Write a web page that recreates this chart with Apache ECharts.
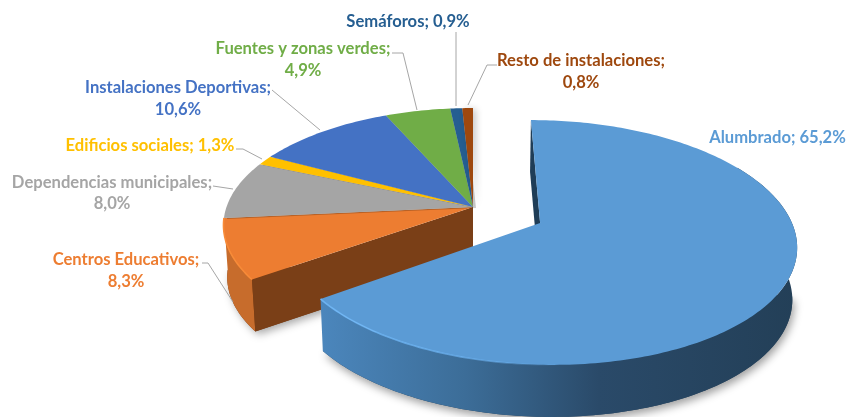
<!DOCTYPE html>
<html><head><meta charset="utf-8">
<style>html,body{margin:0;padding:0;background:#fff}#c{width:848px;height:417px}</style>
<script src="https://cdn.jsdelivr.net/npm/echarts@6/dist/echarts.min.js"></script>
</head><body><div id="c"></div>
<script>
// Data
const categories = ['Alumbrado','Centros Educativos','Dependencias municipales','Edificios sociales','Instalaciones Deportivas','Fuentes y zonas verdes','Semáforos','Resto de instalaciones'];
const values = [65.2,8.3,8.0,1.3,10.6,4.9,0.9,0.8];
const valueLabels = ['65,2%','8,3%','8,0%','1,3%','10,6%','4,9%','0,9%','0,8%'];
const colors = ['#5B9BD5','#ED7D31','#A5A5A5','#FFC000','#4472C4','#70AD47','#255E91','#9E480E'];
const explode = [0.3,0,0,0,0,0,0,0];

// Layout of the text and leader lines
const labelLayout = [
  {x:777.5,y:[138]},
  {x:126,y:[260,282]},
  {x:112,y:[183,204]},
  {x:150,y:[146]},
  {x:178,y:[88,110]},
  {x:303,y:[49,71]},
  {x:408,y:[22]},
  {x:581,y:[61,83]}
];
const leaders = [
  null,
  [[202,263],[208,263],[233,302]],
  [[213,186],[233,189]],
  [[236,149],[243,149],[262,159]],
  [[272,90],[320,130]],
  [[392,53],[403,53],[417,110]],
  [[456,32],[456,106]],
  [[497,65],[487,65],[468,105]]
];
const G = {cx:473, cy:207, R:246.5, Ry:114.3, k:0.155, depth:52, shrink:0.985};

const total = values.reduce((a,b)=>a+b,0);
const rad = d => d*Math.PI/180;
function topPt(X,Y){
  const f = 1/(1+G.k*Y);
  return [G.cx+G.R*X*f, G.cy-G.Ry*Y*f];
}
function botPt(X,Y){
  const p = topPt(X,Y);
  return [G.cx+(p[0]-G.cx)*G.shrink, p[1]+G.depth];
}
function ranges(i){
  let s=0; for(let j=0;j<i;j++) s+=values[j];
  return [s/total*360,(s+values[i])/total*360];
}
function offsetOf(i){
  const [a,b]=ranges(i), m=rad((a+b)/2), d=explode[i];
  return [d*Math.sin(m), d*Math.cos(m)];
}
function arc(i,fn,from,to){
  const [a,b]=ranges(i), [ox,oy]=offsetOf(i), pts=[];
  const s=from===undefined?a:Math.max(a,from), e=to===undefined?b:Math.min(b,to);
  const n=Math.max(2,Math.ceil((e-s)/1));
  for(let t=0;t<=n;t++){const th=rad(s+(e-s)*t/n); pts.push(fn(ox+Math.sin(th),oy+Math.cos(th)));}
  return pts;
}
function apex(i,fn){const [ox,oy]=offsetOf(i); return fn(ox,oy);}
const poly=(points,style,z2)=>({type:'polygon',z2,silent:true,shape:{points},style});
const line=(points,stroke,lineWidth,z2)=>({type:'polyline',z2,silent:true,shape:{points},style:{stroke,lineWidth,fill:null}});
const lg=(x,x2,stops)=>({type:'linear',x,y:0,x2,y2:0,global:true,colorStops:stops});

function renderItem(params,api){
  const i=params.dataIndex, kids=[];
  const color=colors[i];
  const surface=[apex(i,topPt)].concat(arc(i,topPt));
  if(i===0){
    // start wall sliver, outer wall, soft shadow, top and rim highlight
    const th0=ranges(0)[0];
    const [ox,oy]=offsetOf(0);
    kids.push(poly([].concat(arc(0,botPt,100)).concat([apex(0,botPt)]),{fill:'#24405a',shadowBlur:9,shadowColor:'rgba(0,0,0,0.38)',shadowOffsetX:2,shadowOffsetY:4},6));
    kids.push(poly([topPt(ox+Math.sin(rad(th0)),oy+Math.cos(rad(th0))),apex(0,topPt),apex(0,botPt),botPt(ox+Math.sin(rad(th0)),oy+Math.cos(rad(th0)))],{fill:'#1f3d57'},7));
    kids.push(poly(arc(0,topPt,60).concat(arc(0,botPt,60).reverse()),{fill:lg(322,800,[{offset:0,color:'#4B86BC'},{offset:0.3,color:'#3C6D98'},{offset:0.58,color:'#2A4A69'},{offset:1,color:'#233F57'}])},8));
    kids.push(poly(surface,{fill:color},9));
    kids.push(line(arc(0,topPt,170),lg(322,560,[{offset:0,color:'rgba(112,184,248,0.9)'},{offset:0.6,color:'rgba(112,184,248,0.65)'},{offset:1,color:'rgba(112,184,248,0)'}]),1.6,10));
  } else if(i===1){
    kids.push(poly(arc(1,botPt).concat([apex(1,botPt)]),{fill:'#7A3F17',shadowBlur:8,shadowColor:'rgba(0,0,0,0.35)',shadowOffsetX:3,shadowOffsetY:3},2));
    const a=arc(1,topPt), b=arc(1,botPt);
    kids.push(poly(a.concat(b.slice().reverse()),{fill:'#C76C2C'},3));
    kids.push(poly([a[0],apex(1,topPt),apex(1,botPt),b[0]],{fill:'#7A3F17'},4));
    kids.push(poly(surface,{fill:color},5));
    kids.push(line(a,'#F88B38',1.6,5));
  } else {
    kids.push(poly(surface,{fill:color,shadowBlur:i===7?7:0,shadowColor:'rgba(0,0,0,0.22)',shadowOffsetX:3,shadowOffsetY:1},5));
  }
  if(leaders[i]) kids.push(line(leaders[i],'#A6A6A6',1,12));
  const L=labelLayout[i];
  const lines=L.y.length>1?[categories[i]+';',valueLabels[i]]:[categories[i]+'; '+valueLabels[i]];
  lines.forEach((t,n)=>kids.push({type:'text',z2:13,silent:true,
    style:{text:t,x:L.x,y:L.y[n],fill:color,font:'700 16.6px Lato, "Open Sans", sans-serif',align:'center',verticalAlign:'middle'}}));
  return {type:'group',children:kids};
}
const chart=echarts.init(document.getElementById('c'),null,{renderer:'canvas'});
chart.setOption({
  animation:false,
  backgroundColor:'#ffffff',
  series:[{type:'custom',coordinateSystem:'none',silent:true,renderItem,
    data:categories.map((name,i)=>({name,value:[values[i]]}))}]
});
</script></body></html>
